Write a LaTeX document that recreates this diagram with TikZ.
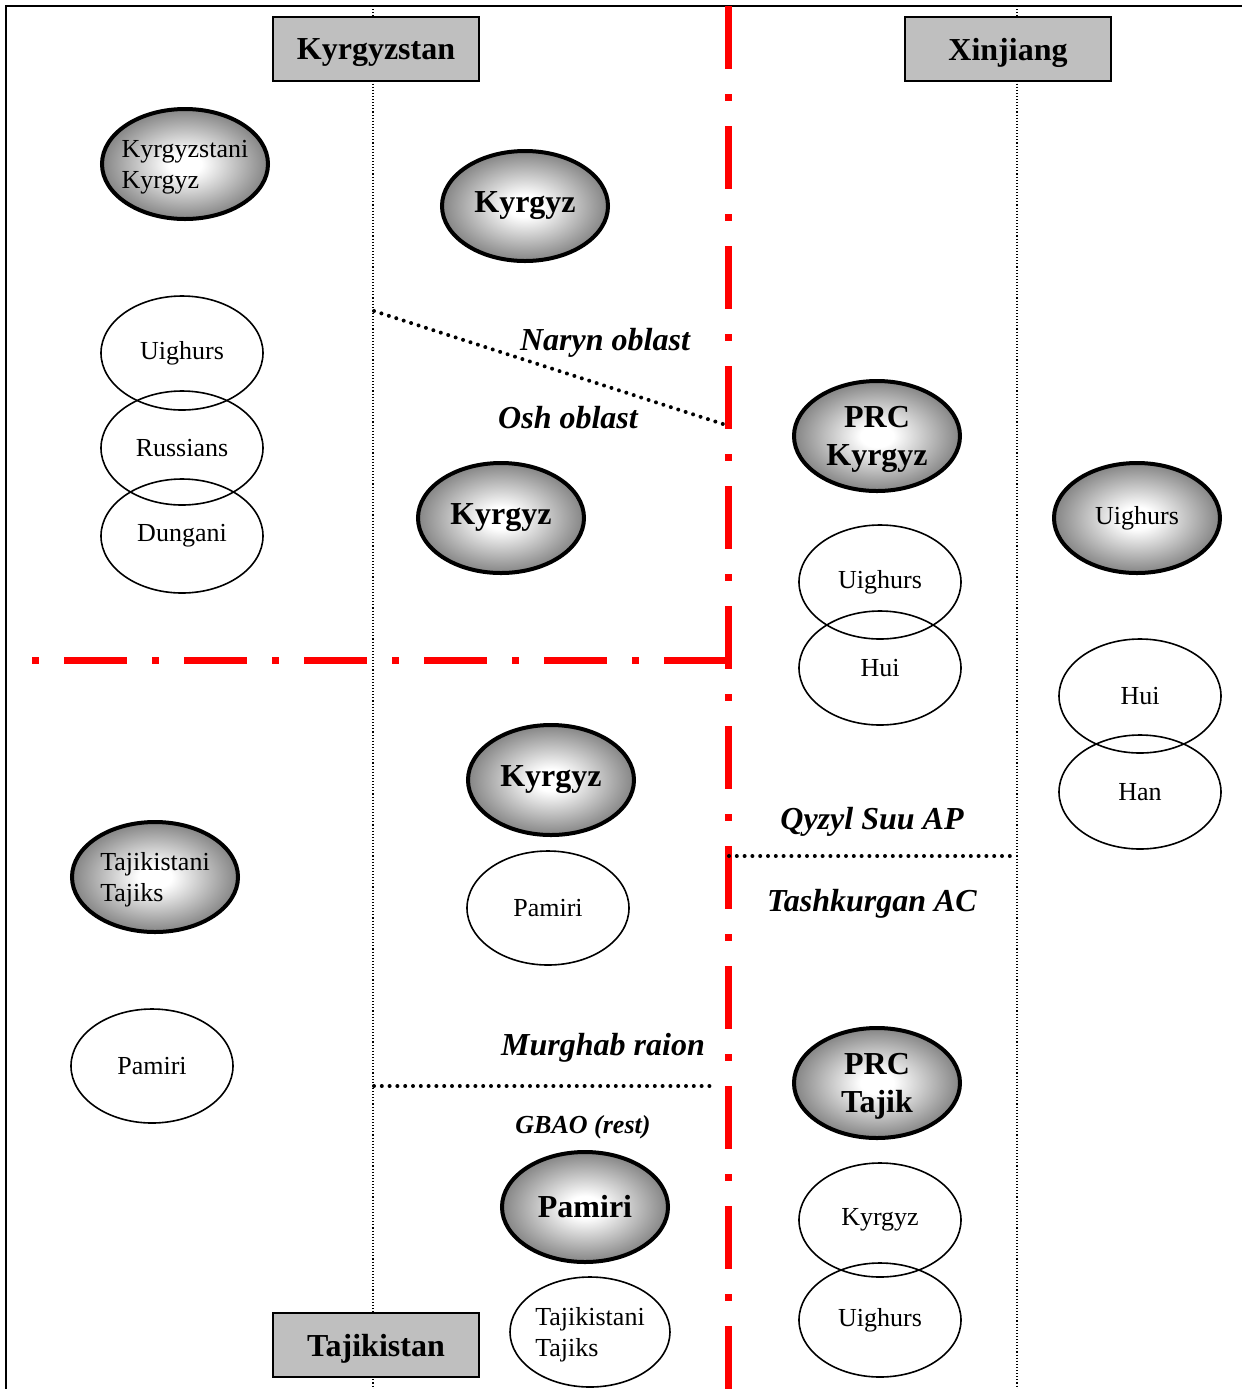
\documentclass[tikz,border=0pt]{standalone}
\usepackage{fontspec}
\setmainfont{Liberation Serif}
\usetikzlibrary{shapes.geometric,positioning}
\pgfdeclareradialshading{ethnicglow}{\pgfpoint{0bp}{0bp}}{color(0bp)=(white); color(5bp)=(white); color(25bp)=(black!48); color(50bp)=(black!48)}

\begin{document}
\begin{tikzpicture}[x=0.5pt,y=-0.5pt,
    major group/.style={ellipse,draw,line width=2pt,shading=ethnicglow,minimum width=83pt,minimum height=55pt,inner sep=0pt,font=\fontsize{16}{19}\selectfont\bfseries,align=center},
    minor group/.style={ellipse,draw,line width=0.8pt,minimum width=81pt,minimum height=57pt,inner sep=0pt,font=\fontsize{13}{15.5}\selectfont,align=left},
    country box/.style={rectangle,draw,line width=1pt,fill=black!25,minimum width=103pt,minimum height=32pt,text depth=0pt,font=\fontsize{16}{19}\selectfont\bfseries},
    area label/.style={font=\fontsize{16}{19}\selectfont\bfseries\itshape,anchor=base,inner sep=0pt},
    state border/.style={red,line width=3.5pt,dash pattern=on 31.5pt off 12.5pt on 3.5pt off 12.5pt},
    region line/.style={line width=2pt,line cap=round,dash pattern=on 0pt off 3.9pt},
    grid line/.style={black,line width=0.55pt,dash pattern=on 0.55pt off 1pt}]
    \useasboundingbox (0,0) rectangle (1242,1389);

    % frame and guide lines
    \draw[line width=1.3pt] (6,1389) -- (6,6) -- (1242,6);
    \coordinate (kgz top) at (373,6);
    \coordinate (kgz bottom) at (373,1389);
    \coordinate (xj top) at (1017,6);
    \coordinate (xj bottom) at (1017,1389);
    \draw[grid line] (kgz top) -- (kgz bottom);
    \draw[grid line] (xj top) -- (xj bottom);

    % borders
    \coordinate (prc top) at (728,6);
    \coordinate (prc bottom) at (728,1389);
    \coordinate (tjk west) at (32,660);
    \coordinate (tjk east) at (728,660);
    \draw[state border] (prc top) -- (prc bottom);
    \draw[state border,dash pattern=on 3.5pt off 12.5pt on 31.5pt off 12.5pt] (tjk west) -- (tjk east);

    \coordinate (naryn w) at (374,311);
    \coordinate (naryn e) at (726,425);
    \coordinate (qyzyl w) at (729,856);
    \coordinate (qyzyl e) at (1016,856);
    \coordinate (murghab w) at (374,1086);
    \coordinate (murghab e) at (711,1086);
    \draw[region line] (naryn w) -- (naryn e);
    \draw[region line] (qyzyl w) -- (qyzyl e);
    \draw[region line] (murghab w) -- (murghab e);

    % countries
    \node[country box] (kgz) at (376,49) {Kyrgyzstan};
    \node[country box] (xj) at (1008,49) {Xinjiang};
    \node[country box] (tjk) at (376,1345) {Tajikistan};

    % regions
    \node[area label] (naryn) at (605,350) {Naryn oblast};
    \node[area label] (osh) at (568,428) {Osh oblast};
    \node[area label] (qyzyl) at (872,829) {Qyzyl Suu AP};
    \node[area label] (tashkurgan) at (872,911) {Tashkurgan AC};
    \node[area label] (murghab) at (603,1055) {Murghab raion};
    \node[area label,font=\fontsize{13}{15.5}\selectfont\bfseries\itshape] (gbao) at (583,1133) {GBAO (rest)};

    % main groups
    \node[major group,font=\fontsize{13}{15.5}\selectfont,align=left,inner xsep=-4pt,text depth=0pt] (kg kg) at (185,164) {Kyrgyzstani\\Kyrgyz};
    \node[major group] (naryn kg) at (525,206) {Kyrgyz};
    \node[major group] (osh kg) at (501,518) {Kyrgyz};
    \node[major group,text depth=0pt] (prc kg) at (877,436) {PRC\\Kyrgyz};
    \node[major group,font=\fontsize{13}{15.5}\selectfont] (xj ug) at (1137,518) {Uighurs};
    \node[major group] (murghab kg) at (551,780) {Kyrgyz};
    \node[major group,font=\fontsize{13}{15.5}\selectfont,align=left,text depth=0pt] (tj tj) at (155,877) {Tajikistani\\Tajiks};
    \node[major group,text depth=0pt] (prc tj) at (877,1083) {PRC\\Tajik};
    \node[major group] (gbao pm) at (585,1207) {Pamiri};

    % other groups
    \node[minor group] (kg ug) at (182,353) {Uighurs};
    \node[minor group] (kg ru) at (182,448) {Russians};
    \node[minor group] (kg du) at (182,536) {Dungani};
    \node[minor group] (qyzyl ug) at (880,582) {Uighurs};
    \node[minor group] (qyzyl hui) at (880,668) {Hui};
    \node[minor group] (xj hui) at (1140,696) {Hui};
    \node[minor group] (xj han) at (1140,792) {Han};
    \node[minor group] (murghab pm) at (548,908) {Pamiri};
    \node[minor group] (tj pm) at (152,1066) {Pamiri};
    \node[minor group] (tashk kg) at (880,1220) {Kyrgyz};
    \node[minor group] (tashk ug) at (880,1320) {Uighurs};
    \node[minor group,minimum width=80pt,minimum height=55pt,text depth=0pt] (gbao tj) at (590,1332) {Tajikistani\\Tajiks};
\end{tikzpicture}
\end{document}
